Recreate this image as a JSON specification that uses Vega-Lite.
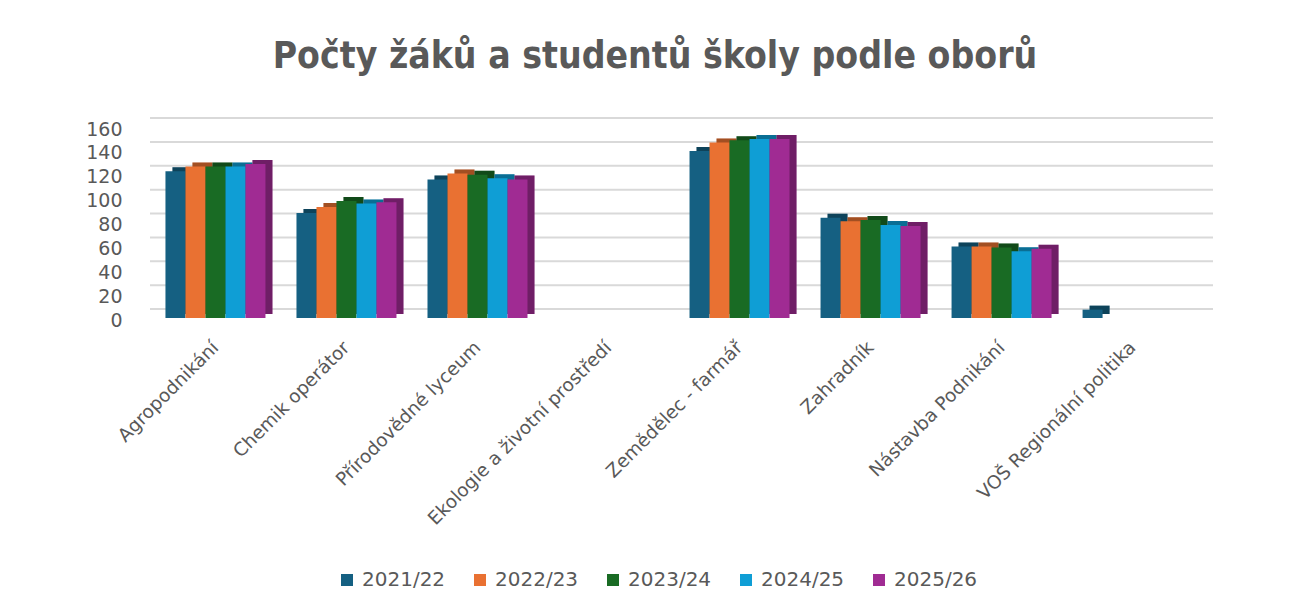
{
  "$schema": "https://vega.github.io/schema/vega-lite/v6.json",
  "autosize": "none",
  "width": 1048,
  "height": 191,
  "padding": {"left": 150, "top": 127, "right": 94, "bottom": 290},
  "background": "white",
  "title": {
    "text": "Počty žáků a studentů školy podle oborů",
    "anchor": "middle",
    "frame": "group",
    "dx": -19,
    "offset": 12,
    "baseline": "alphabetic",
    "font": "DejaVu Sans Condensed, DejaVu Sans",
    "fontSize": 37,
    "fontWeight": "bold",
    "color": "#595959"
  },
  "datasets": {
    "grid": [{"g": 0}, {"g": 20}, {"g": 40}, {"g": 60}, {"g": 80}, {"g": 100}, {"g": 120}, {"g": 140}, {"g": 160}],
    "skola": [
      {"obor": "Agropodnikání", "rok": "2021/22", "pocet": 123},
      {"obor": "Agropodnikání", "rok": "2022/23", "pocet": 127},
      {"obor": "Agropodnikání", "rok": "2023/24", "pocet": 127},
      {"obor": "Agropodnikání", "rok": "2024/25", "pocet": 127},
      {"obor": "Agropodnikání", "rok": "2025/26", "pocet": 129},
      {"obor": "Chemik operátor", "rok": "2021/22", "pocet": 88},
      {"obor": "Chemik operátor", "rok": "2022/23", "pocet": 93},
      {"obor": "Chemik operátor", "rok": "2023/24", "pocet": 98},
      {"obor": "Chemik operátor", "rok": "2024/25", "pocet": 96},
      {"obor": "Chemik operátor", "rok": "2025/26", "pocet": 97},
      {"obor": "Přírodovědné lyceum", "rok": "2021/22", "pocet": 116},
      {"obor": "Přírodovědné lyceum", "rok": "2022/23", "pocet": 121},
      {"obor": "Přírodovědné lyceum", "rok": "2023/24", "pocet": 120},
      {"obor": "Přírodovědné lyceum", "rok": "2024/25", "pocet": 117},
      {"obor": "Přírodovědné lyceum", "rok": "2025/26", "pocet": 116},
      {"obor": "Ekologie a životní prostředí", "rok": "2021/22", "pocet": 0},
      {"obor": "Ekologie a životní prostředí", "rok": "2022/23", "pocet": 0},
      {"obor": "Ekologie a životní prostředí", "rok": "2023/24", "pocet": 0},
      {"obor": "Ekologie a životní prostředí", "rok": "2024/25", "pocet": 0},
      {"obor": "Ekologie a životní prostředí", "rok": "2025/26", "pocet": 0},
      {"obor": "Zemědělec - farmář", "rok": "2021/22", "pocet": 140},
      {"obor": "Zemědělec - farmář", "rok": "2022/23", "pocet": 147},
      {"obor": "Zemědělec - farmář", "rok": "2023/24", "pocet": 149},
      {"obor": "Zemědělec - farmář", "rok": "2024/25", "pocet": 150},
      {"obor": "Zemědělec - farmář", "rok": "2025/26", "pocet": 150},
      {"obor": "Zahradník", "rok": "2021/22", "pocet": 84},
      {"obor": "Zahradník", "rok": "2022/23", "pocet": 81},
      {"obor": "Zahradník", "rok": "2023/24", "pocet": 82},
      {"obor": "Zahradník", "rok": "2024/25", "pocet": 78},
      {"obor": "Zahradník", "rok": "2025/26", "pocet": 77},
      {"obor": "Nástavba Podnikání", "rok": "2021/22", "pocet": 60},
      {"obor": "Nástavba Podnikání", "rok": "2022/23", "pocet": 60},
      {"obor": "Nástavba Podnikání", "rok": "2023/24", "pocet": 59},
      {"obor": "Nástavba Podnikání", "rok": "2024/25", "pocet": 56},
      {"obor": "Nástavba Podnikání", "rok": "2025/26", "pocet": 58},
      {"obor": "VOŠ Regionální politika", "rok": "2021/22", "pocet": 7},
      {"obor": "VOŠ Regionální politika", "rok": "2022/23", "pocet": 0},
      {"obor": "VOŠ Regionální politika", "rok": "2023/24", "pocet": 0},
      {"obor": "VOŠ Regionální politika", "rok": "2024/25", "pocet": 0},
      {"obor": "VOŠ Regionální politika", "rok": "2025/26", "pocet": 0}
    ]
  },
  "layer": [
    {
      "data": {"name": "grid"},
      "mark": {"type": "rule", "color": "#d9d9d9", "strokeWidth": 2, "xOffset": 15, "x2Offset": 15, "yOffset": -9, "y2Offset": -9},
      "encoding": {
        "y": {"field": "g", "type": "quantitative", "scale": {"domain": [0, 160], "nice": false, "zero": true},
              "axis": {"values": [0, 20, 40, 60, 80, 100, 120, 140, 160], "grid": false, "domain": false, "ticks": false, "labelPadding": 28,
                       "labelOverlap": false, "labelOffset": 2,
                       "labelFont": "DejaVu Sans", "labelFontSize": 19, "labelColor": "#595959", "title": null}}
      }
    },
    {
      "data": {"name": "skola"},
      "layer": [
        {"mark": {"type": "bar"}, "encoding": {"color": {"field": "rok", "type": "nominal", "sort": null}}},
        {"mark": {"type": "bar", "color": "black", "opacity": 0.3}}
      ],
      "encoding": {
        "x": {"field": "obor", "type": "nominal", "sort": null,
              "scale": {"paddingInner": 0.237, "paddingOuter": 0.118},
              "axis": {"labelAngle": -45, "labelAlign": "right", "labelBaseline": "middle", "labelPadding": 26,
                       "domain": false, "ticks": false, "labelFont": "DejaVu Sans", "labelFontSize": 18.5, "labelColor": "#595959",
                       "labelLimit": 400, "title": null}},
        "xOffset": {"field": "rok", "type": "nominal", "sort": null, "scale": {"range": [7, 107]}},
        "y": {"field": "pocet", "type": "quantitative", "scale": {"domain": [0, 160], "nice": false, "range": [187, -4]}, "axis": null}
      }
    },
    {
      "data": {"name": "skola"},
      "mark": {"type": "bar"},
      "encoding": {
        "x": {"field": "obor", "type": "nominal", "sort": null},
        "xOffset": {"field": "rok", "type": "nominal", "sort": null, "scale": {"range": [0, 100]}},
        "y": {"field": "pocet", "type": "quantitative", "scale": {"domain": [0, 160], "nice": false}, "axis": null},
        "color": {"field": "rok", "type": "nominal", "sort": null,
                  "scale": {"range": ["#156082", "#E97132", "#196B24", "#0F9ED5", "#A02B93"]},
                  "legend": {"title": null, "orient": "none", "direction": "horizontal", "legendX": 187, "legendY": 443,
                             "symbolType": "square", "symbolSize": 144, "symbolStrokeWidth": 0, "symbolOpacity": 1,
                             "labelFont": "DejaVu Sans", "labelFontSize": 20, "labelColor": "#595959", "labelOffset": 5,
                             "columnPadding": 24}}
      }
    }
  ],
  "resolve": {"scale": {"y": "independent", "xOffset": "independent"}},
  "config": {"view": {"stroke": null}}
}
